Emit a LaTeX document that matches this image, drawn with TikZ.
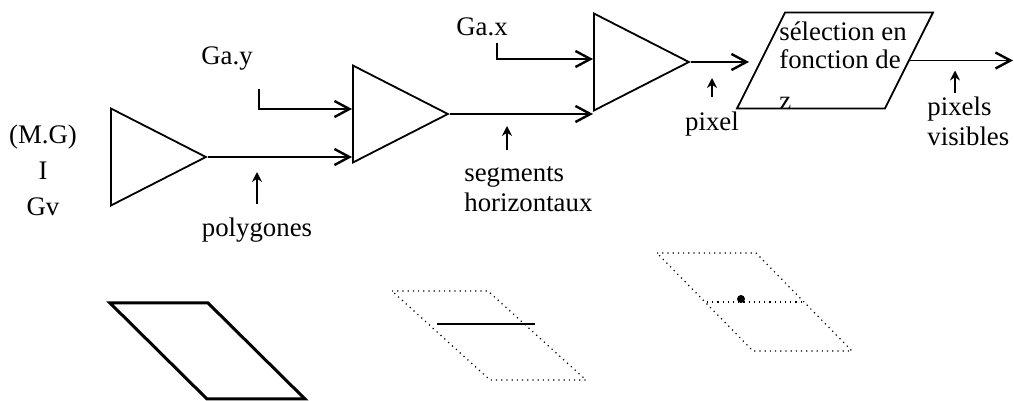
\documentclass[tikz,border=0pt]{standalone}
\usepackage{fontspec}
\setmainfont{Liberation Serif}
\usetikzlibrary{positioning}
\usetikzlibrary{arrows.meta}
\usetikzlibrary{shapes.geometric}
\usetikzlibrary{calc}
\newcommand{\textefig}{\fontsize{13.4}{15}\selectfont}
\tikzset{
  ampli/.style={
    isosceles triangle, isosceles triangle stretches, draw, line width=0.9pt,
    inner sep=0pt, minimum width=48.5pt, minimum height=47.5pt, anchor=lower side
  },
  selecteur/.style={
    trapezium, trapezium left angle=63.4, trapezium right angle=116.6,
    trapezium stretches body, draw, line width=0.9pt, inner sep=0pt,
    text height=48pt, text depth=0pt, minimum width=98pt
  },
  etiquette/.style={font=\textefig, inner sep=1pt},
  fleche/.style={-{Straight Barb[length=7.5pt,width=8pt,line width=1.2pt]}, line width=0.8pt},
  flechette/.style={-{Stealth[length=5pt,width=5pt]}, line width=0.8pt},
  contour/.style={line width=1.5pt, line join=miter},
  pointille/.style={dotted, line width=0.6pt}
}

\begin{document}
\begin{tikzpicture}[x=0.5pt, y=-0.5pt]
  \useasboundingbox (0,0) rectangle (1014,401);

  % chaine de traitement
  \node[etiquette, align=center, font=\fontsize{13.4}{18}\selectfont] (entrees) at (43,170) {(M.G)\\I\\Gv};
  \node[ampli] (tri1) at (110,157) {};
  \node[ampli] (tri2) at (352,114) {};
  \node[ampli] (tri3) at (593,62) {};
  \node[selecteur] (select) at (835,60.5) {};
  \node[etiquette, align=left, anchor=north west, font=\fontsize{13.4}{14}\selectfont]
    (select-texte) at (777,19) {sélection en\\fonction de\\[6.5pt]z};

  \node[etiquette, anchor=base] (gay) at (227,65) {Ga.y};
  \node[etiquette, anchor=base] (gax) at (482,36) {Ga.x};
  \coordinate (gay-coude) at (259,89);
  \coordinate (gax-coude) at (497,43);
  \coordinate (sortie) at (1013,62);

  \node[etiquette, anchor=base] (polygones) at (257,237) {polygones};
  \node[etiquette, align=left, anchor=north west] (segments) at (462,164) {segments\\horizontaux};
  \node[etiquette, anchor=base] (pixel) at (712,131) {pixel};
  \node[etiquette, align=left, anchor=north west] (visibles) at (925,95) {pixels\\visibles};

  \draw[fleche] (tri1.apex) -- (tri1.apex -| tri2.lower side);
  \draw[fleche] (gay-coude) |- ([yshift=2.5pt]tri2.lower side);
  \draw[fleche] (tri2.apex) -- (tri2.apex -| tri3.lower side);
  \draw[fleche] (gax-coude) |- ([yshift=1.5pt]tri3.lower side);
  \draw[fleche] (tri3.apex) -- ($(tri3.apex -| select.west)+(-11,0)$);
  \draw[fleche] (select.east) -- (select.east -| sortie);

  % fleches des etiquettes
  \draw[flechette] ($(polygones.north)+(0,-12)$) -- ($(polygones.north |- tri1.apex)+(0,15)$);
  \draw[flechette] ($(segments.north west)+(45,-14)$) -- ($(segments.north west |- tri2.apex)+(45,12)$);
  \draw[flechette] ($(pixel.north)+(0,-13)$) -- ($(pixel.north |- tri3.apex)+(0,16)$);
  \draw[flechette] ($(visibles.north west)+(30,-2)$) -- ($(visibles.north west |- select.east)+(30,10)$);

  % polygone, segment, pixel
  \draw[contour] (110,303) -- (208,303) -- (305,399) -- (207,399) -- cycle;
  \draw[pointille] (392,291) -- (488,291) -- (586,380) -- (490,380) -- cycle;
  \draw[line width=1.2pt] (437,324) -- (535,324);
  \draw[pointille] (657,253) -- (756,253) -- (852,351) -- (753,351) -- cycle;
  \draw[pointille] (707,302) -- (803,302);
  \fill (741,299) circle[radius=4];
\end{tikzpicture}
\end{document}
